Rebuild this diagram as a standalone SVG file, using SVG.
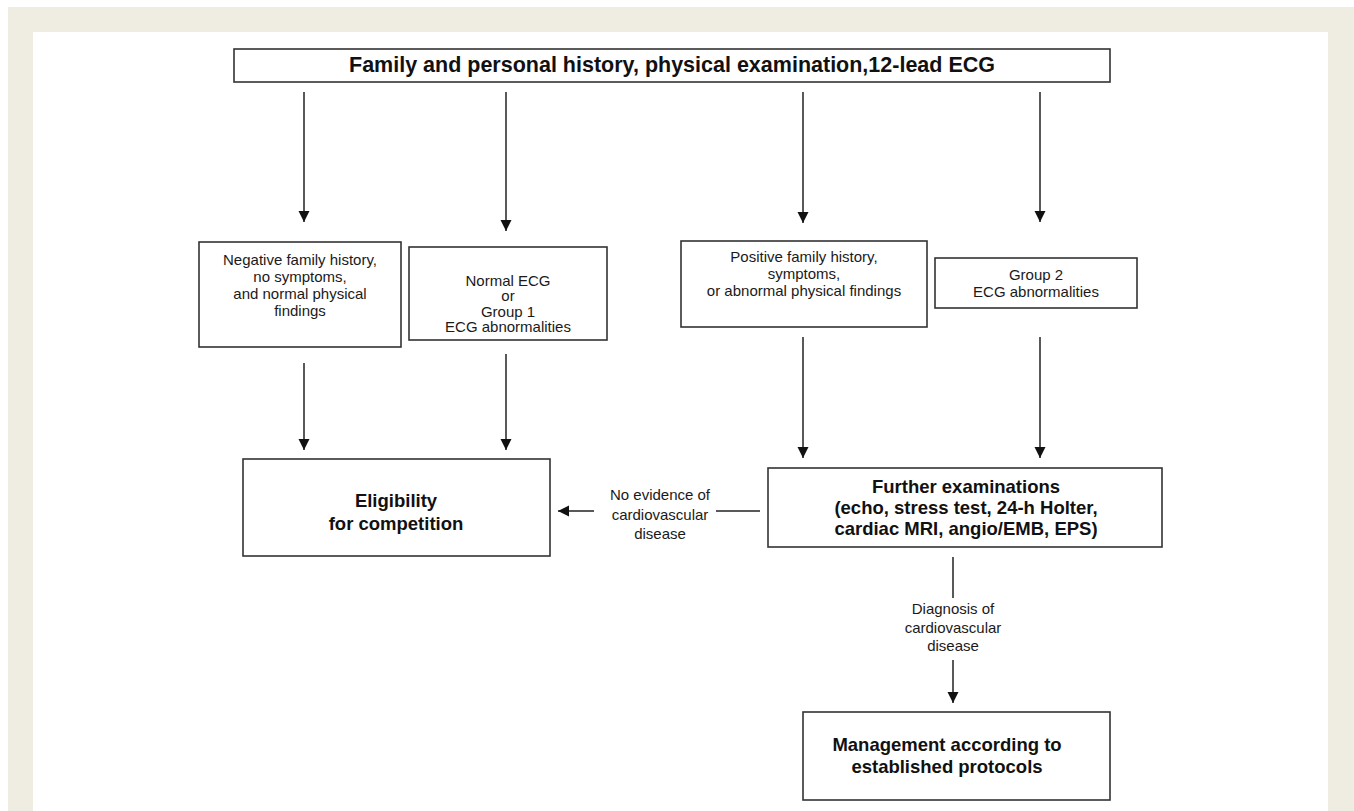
<svg xmlns="http://www.w3.org/2000/svg" width="1354" height="811" viewBox="0 0 1354 811">
<defs>
<style>
.box{fill:#fff;stroke:#333;stroke-width:1.6}
.ln{stroke:#222;stroke-width:1.5;fill:none}
.t{font-family:"Liberation Sans",Arial,sans-serif;font-size:15px;fill:#1a1a1a;text-anchor:middle}
.b{font-family:"Liberation Sans",Arial,sans-serif;font-size:18.5px;font-weight:bold;fill:#111;text-anchor:middle}
</style>
<marker id="ah" markerUnits="userSpaceOnUse" markerWidth="12" markerHeight="12" viewBox="0 0 12 12" refX="11" refY="6" orient="auto">
<path d="M0,0.5 L11,6 L0,11.5 Z" fill="#111"/>
</marker>
</defs>
<rect x="0" y="0" width="1354" height="811" fill="#fff"/>
<rect x="8" y="7" width="1346" height="804" fill="#efece2"/>
<rect x="33" y="32" width="1295" height="779" fill="#fff"/>

<g id="top">
<rect class="box" x="234" y="49" width="876" height="33"/>
<text class="b" x="672" y="72" font-size="21.5" style="font-size:21.5px">Family and personal history, physical examination,12-lead ECG</text>
</g>
<g id="negative">
<rect class="box" x="199" y="242" width="202" height="105"/>
<text class="t" x="300" y="265">Negative family history,</text>
<text class="t" x="300" y="282">no symptoms,</text>
<text class="t" x="300" y="299">and normal physical</text>
<text class="t" x="300" y="316">findings</text>
</g>
<g id="normal">
<rect class="box" x="409" y="247" width="198" height="93"/>
<text class="t" x="508" y="286">Normal ECG</text>
<text class="t" x="508" y="301">or</text>
<text class="t" x="508" y="317">Group 1</text>
<text class="t" x="508" y="332">ECG abnormalities</text>
</g>
<g id="positive">
<rect class="box" x="681" y="241" width="246" height="86"/>
<text class="t" x="804" y="262">Positive family history,</text>
<text class="t" x="804" y="279">symptoms,</text>
<text class="t" x="804" y="296">or abnormal physical findings</text>
</g>
<g id="group2">
<rect class="box" x="935" y="258" width="202" height="50"/>
<text class="t" x="1036" y="280">Group 2</text>
<text class="t" x="1036" y="297">ECG abnormalities</text>
</g>
<g id="eligibility">
<rect class="box" x="243" y="459" width="307" height="97"/>
<text class="b" x="396" y="507">Eligibility</text>
<text class="b" x="396" y="530">for competition</text>
</g>
<g id="further">
<rect class="box" x="768" y="468" width="394" height="79"/>
<text class="b" x="966" y="493">Further examinations</text>
<text class="b" x="966" y="514">(echo, stress test, 24-h Holter,</text>
<text class="b" x="966" y="535">cardiac MRI, angio/EMB, EPS)</text>
</g>
<g id="management">
<rect class="box" x="803" y="712" width="307" height="88"/>
<text class="b" x="947" y="751">Management according to</text>
<text class="b" x="947" y="773">established protocols</text>
</g>

<g id="connectors">
<line class="ln" x1="304" y1="92" x2="304" y2="222" marker-end="url(#ah)"/>
<line class="ln" x1="506" y1="92" x2="506" y2="231" marker-end="url(#ah)"/>
<line class="ln" x1="803" y1="92" x2="803" y2="223" marker-end="url(#ah)"/>
<line class="ln" x1="1040" y1="92" x2="1040" y2="222" marker-end="url(#ah)"/>
<line class="ln" x1="304" y1="363" x2="304" y2="450" marker-end="url(#ah)"/>
<line class="ln" x1="506" y1="354" x2="506" y2="450" marker-end="url(#ah)"/>
<line class="ln" x1="803" y1="337" x2="803" y2="458" marker-end="url(#ah)"/>
<line class="ln" x1="1040" y1="337" x2="1040" y2="458" marker-end="url(#ah)"/>
<line class="ln" x1="760" y1="511" x2="716" y2="511"/>
<line class="ln" x1="594" y1="511" x2="558" y2="511" marker-end="url(#ah)"/>
<text class="t" x="660" y="500">No evidence of</text>
<text class="t" x="660" y="520">cardiovascular</text>
<text class="t" x="660" y="539">disease</text>
<line class="ln" x1="953" y1="557" x2="953" y2="598"/>
<line class="ln" x1="953" y1="660" x2="953" y2="703" marker-end="url(#ah)"/>
<text class="t" x="953" y="614">Diagnosis of</text>
<text class="t" x="953" y="633">cardiovascular</text>
<text class="t" x="953" y="651">disease</text>
</g>
</svg>
